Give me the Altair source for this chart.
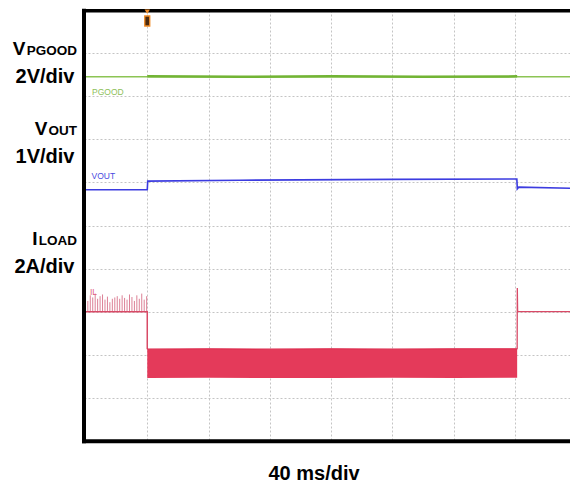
import altair as alt
import pandas as pd

FONT = "Liberation Sans"

# ---- scope geometry (time in ms, vertical in divisions) ----
X_DOMAIN = [-1.3, 316.0]
Y_DOMAIN = [0, 10]
grid_t = [40, 80, 120, 160, 200, 240, 280]
grid_div = [1, 2, 3, 4, 5, 6, 7, 8, 9]

# ---- PGOOD trace (green) ----
pg_t = [-1.3, 316.0]
pg_v = [8.45, 8.45]
pg_thick_t = [40.0, 100.0, 160.0, 220.0, 281.5]
pg_thick_v = [8.46, 8.45, 8.46, 8.45, 8.46]

# ---- VOUT trace (blue) ----
vout_t = [-1.3, 40.0, 40.3, 100.0, 200.0, 281.3, 281.6, 282.5, 316.0]
vout_v = [5.83, 5.83, 6.03, 6.05, 6.07, 6.08, 5.85, 5.89, 5.865]

# ---- IL trace (red) ----
il_pre_t = [-1.3, 40.0, 40.0]
il_pre_v = [3.0, 3.0, 2.13]
spike_t = [1.2, 2.8, 4.4, 6.0, 7.6, 9.2, 10.8, 12.4, 14.0, 15.6, 17.2, 18.8, 20.4,
           22.0, 23.6, 25.2, 26.8, 28.4, 30.0, 31.6, 33.2, 34.8, 36.4, 38.0, 39.6]
spike_v = [3.25, 3.38, 3.33, 3.42, 3.30, 3.36, 3.40, 3.28, 3.35, 3.22, 3.30, 3.33, 3.36,
           3.30, 3.38, 3.32, 3.28, 3.40, 3.34, 3.25, 3.38, 3.30, 3.42, 3.28, 3.36]
band_t = [40.0, 80.0, 120.0, 160.0, 200.0, 240.0, 281.5]
band_lo = [1.46, 1.47, 1.46, 1.46, 1.47, 1.46, 1.47]
band_hi = [2.13, 2.14, 2.13, 2.14, 2.13, 2.14, 2.14]
il_post_t = [281.5, 281.6, 281.8, 282.2, 316.0]
il_post_v = [2.13, 3.55, 3.02, 3.0, 3.0]

trigger_t = [40.0]

x_enc = dict(scale=alt.Scale(domain=X_DOMAIN, nice=False, zero=False),
             axis=alt.Axis(values=grid_t, grid=True, labels=False, ticks=False, domain=False,
                           title=None, gridColor="#c4c4c4", gridDash=[2, 2], gridWidth=1))
y_enc = dict(scale=alt.Scale(domain=Y_DOMAIN, nice=False, zero=False),
             axis=alt.Axis(values=grid_div, grid=True, labels=False, ticks=False, domain=False,
                           title=None, gridColor="#c4c4c4", gridDash=[2, 2], gridWidth=1))

def X(f):
    return alt.X(f, type="quantitative", **x_enc)

def Y(f):
    return alt.Y(f, type="quantitative", **y_enc)

pg_df = pd.DataFrame({"t": pg_t, "v": pg_v})
pg_thick_df = pd.DataFrame({"t": pg_thick_t, "v": pg_thick_v})
vout_df = pd.DataFrame({"t": vout_t, "v": vout_v, "i": range(len(vout_t))})
il_pre_df = pd.DataFrame({"t": il_pre_t, "v": il_pre_v, "i": range(len(il_pre_t))})
il_post_df = pd.DataFrame({"t": il_post_t, "v": il_post_v, "i": range(len(il_post_t))})
spike_df = pd.DataFrame({"t": spike_t, "v": spike_v, "b": [3.0] * len(spike_t)})
band_df = pd.DataFrame({"t": band_t, "lo": band_lo, "hi": band_hi})
trig_df = pd.DataFrame({"t": trigger_t, "box": [9.745], "tri": [9.96]})

pg = alt.Chart(pg_df).mark_line(color="#8cc454", strokeWidth=1.5).encode(x=X("t"), y=Y("v"))
pg_thick = alt.Chart(pg_thick_df).mark_line(color="#72b434", strokeWidth=2.5).encode(x=X("t"), y=Y("v"))
vout = alt.Chart(vout_df).mark_line(color="#3c3ce0", strokeWidth=1.6).encode(
    x=X("t"), y=Y("v"), order="i:Q")
spikes = alt.Chart(spike_df).mark_rule(color="#dc8096", strokeWidth=1).encode(
    x=X("t"), y=Y("b"), y2="v")
il_pre = alt.Chart(il_pre_df).mark_line(color="#d84a66", strokeWidth=1.5).encode(
    x=X("t"), y=Y("v"), order="i:Q")
band = alt.Chart(band_df).mark_area(color="#e43a5a", opacity=1).encode(
    x=X("t"), y=Y("lo"), y2="hi")
band_top = alt.Chart(band_df).mark_line(color="#dc2a4c", strokeWidth=1.2).encode(x=X("t"), y=Y("hi"))
il_post = alt.Chart(il_post_df).mark_line(color="#d84a66", strokeWidth=1.3).encode(
    x=X("t"), y=Y("v"), order="i:Q")

trig_box = alt.Chart(trig_df).mark_point(
    shape="M-0.5,-1L0.5,-1L0.5,1L-0.5,1Z", size=100, filled=True, fill="#4a2a10",
    stroke="#f08a24", strokeWidth=1.3, opacity=1).encode(x=X("t"), y=Y("box"))
trig_tri = alt.Chart(trig_df).mark_point(shape="triangle-down", size=28, filled=True,
                                         color="#f28c28", opacity=1).encode(x=X("t"), y=Y("tri"))

one = pd.DataFrame({"a": [0]})

def label(text, x, y, size, align, color="black", weight="bold"):
    return alt.Chart(one).mark_text(text=text, align=align, baseline="alphabetic",
                                    fontSize=size, fontWeight=weight, font=FONT,
                                    color=color).encode(x=alt.value(x), y=alt.value(y))

def frame(**kw):
    return alt.Chart(one).mark_rule(color="black", strokeWidth=kw.pop("w")).encode(**kw)

labels = [
    label("V", -58.5, 45, 19, "right"),
    label("PGOOD", -7, 45, 13.5, "right"),
    label("2V/div", -9.5, 73, 20, "right"),
    label("V", -36.5, 125, 19, "right"),
    label("OUT", -7, 125, 13.5, "right"),
    label("1V/div", -9.5, 153, 20, "right"),
    label("I", -46.5, 235, 19, "right"),
    label("LOAD", -7, 235, 13.5, "right"),
    label("2A/div", -9.5, 263, 20, "right"),
    label("40 ms/div", 230, 470, 20, "center"),
    label("PGOOD", 8, 85, 8.5, "left", color="#8dc05a", weight="normal"),
    label("VOUT", 7.5, 169, 8.5, "left", color="#4a4ae0", weight="normal"),
    label("IL", 6, 285, 8.5, "left", color="#e0607e", weight="normal"),
]

frames = [
    frame(x=alt.value(0), y=alt.value(-1.2), y2=alt.value(433.3), w=4),
    frame(x=alt.value(-2), x2=alt.value(486), y=alt.value(0.7), w=3.5),
    frame(x=alt.value(-2), x2=alt.value(486), y=alt.value(431.3), w=4),
]

chart = alt.layer(
    pg, pg_thick, vout, spikes, il_pre, band, band_top, il_post,
    *frames, trig_tri, trig_box, *labels
).properties(
    width=486, height=431,
    padding={"left": 76, "top": 2, "right": 0, "bottom": 44},
    autosize=alt.AutoSizeParams(type="none"),
    background="white",
).configure_view(stroke=None)

chart.save("out.html", embed_options={"renderer": "svg", "actions": False})
